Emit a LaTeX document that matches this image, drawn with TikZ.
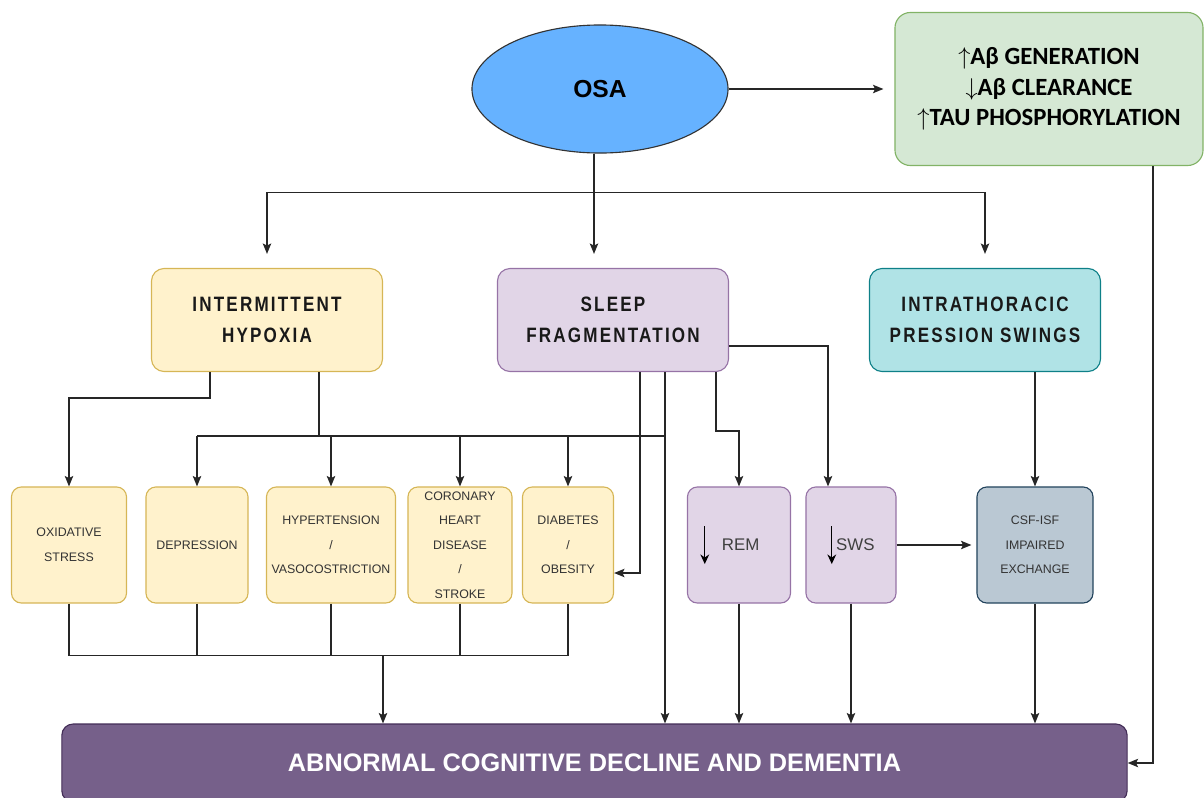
\documentclass[tikz,border=0pt]{standalone}
\usepackage{fontspec}
\setmainfont{Liberation Sans}
\newfontfamily\calibrifont{Carlito}
\newfontfamily\narrowfont[FakeStretch=0.82,LetterSpace=10.5]{Liberation Sans}
\usetikzlibrary{arrows.meta,positioning,calc,shapes.geometric}
\definecolor{OsaBlue}{HTML}{66B2FF}
\definecolor{AmyFill}{HTML}{D5E8D4}
\definecolor{AmyLine}{HTML}{82B366}
\definecolor{HypFill}{HTML}{FFF2CC}
\definecolor{HypLine}{HTML}{D6B656}
\definecolor{SleepFill}{HTML}{E1D5E7}
\definecolor{SleepLine}{HTML}{9673A6}
\definecolor{PresFill}{HTML}{B0E3E6}
\definecolor{PresLine}{HTML}{0E8088}
\definecolor{CsfFill}{HTML}{BAC8D3}
\definecolor{CsfLine}{HTML}{23445D}
\definecolor{DemFill}{HTML}{76608A}
\definecolor{DemLine}{HTML}{432D57}
\newcommand{\tallarrow}{\tikz[baseline=-0.1cm]\draw[black, line width=0.9pt,
  -{Stealth[length=2.4mm,width=2.2mm]}] (0,0.5cm) -- (0,-0.45cm);}

\begin{document}
\begin{tikzpicture}[
        x=0.025cm, y=-0.025cm,
        bigbox/.style={draw, line width=0.8pt, rounded corners=9pt, align=center,
          minimum width=5.775cm, minimum height=2.575cm,
          font=\narrowfont\fontsize{14.8}{22}\selectfont\bfseries, text=black!90},
        smallbox/.style={draw=HypLine, fill=HypFill, line width=0.8pt, rounded corners=7pt,
          align=center, minimum height=2.9cm, inner sep=1pt,
          font=\fontsize{8.8}{17.5}\selectfont, text=black!80},
        sleepbox/.style={draw=SleepLine, fill=SleepFill, line width=0.8pt, rounded corners=7pt,
          align=center, minimum height=2.9cm, inner sep=1pt,
          font=\fontsize{12}{14}\selectfont, text=black!75},
        arr/.style={-{Stealth[length=2.6mm,width=2.1mm,inset=0.5mm]}, line width=1pt, draw=black!85},
        line/.style={line width=1pt, draw=black!85}
      ]
        \useasboundingbox (0,0) rectangle (1204,797);

        % top row
        \node[ellipse, draw=black!80, fill=OsaBlue, line width=0.8pt, inner sep=0pt,
          minimum width=6.4cm, minimum height=3.2cm,
          font=\fontsize{17.5}{20}\selectfont\bfseries] (osa) at (600,89) {OSA};
        \node[draw=AmyLine, fill=AmyFill, line width=0.8pt, rounded corners=11pt, align=center,
          minimum width=7.7cm, minimum height=3.825cm,
          font=\calibrifont\fontsize{17.6}{21.5}\selectfont\bfseries] (amy) at (1049,89)
          {$\uparrow$Aβ GENERATION\\$\downarrow$Aβ CLEARANCE\\$\uparrow$TAU PHOSPHORYLATION};

        % mechanisms
        \node[bigbox, draw=HypLine, fill=HypFill] (ih) at (267,320) {INTERMITTENT\\HYPOXIA};
        \node[bigbox, draw=SleepLine, fill=SleepFill] (sf) at (613,320) {SLEEP\\FRAGMENTATION};
        \node[bigbox, draw=PresLine, fill=PresFill] (ips) at (985,320) {INTRATHORACIC\\PRESSION SWINGS};

        % consequences
        \node[smallbox, minimum width=2.875cm] (ox) at (69,545) {OXIDATIVE\\STRESS};
        \node[smallbox, minimum width=2.55cm] (dep) at (197,545) {DEPRESSION};
        \node[smallbox, minimum width=3.225cm] (hyp) at (331,545) {HYPERTENSION\\/\\VASOCOSTRICTION};
        \node[smallbox, minimum width=2.6cm] (chd) at (460,545) {CORONARY\\HEART\\DISEASE\\/\\STROKE};
        \node[smallbox, minimum width=2.275cm] (dia) at (568,545) {DIABETES\\/\\OBESITY};
        \node[sleepbox, minimum width=2.575cm] (rem) at (739,545) {\tallarrow\hspace{9pt}REM\hspace{13pt}};
        \node[sleepbox, minimum width=2.25cm] (sws) at (851,545) {\tallarrow\hspace{0pt}SWS};
        \node[draw=CsfLine, fill=CsfFill, line width=0.8pt, rounded corners=7pt, align=center,
          minimum width=2.9cm, minimum height=2.9cm,
          font=\fontsize{8.8}{17.5}\selectfont, text=black!80] (csf) at (1035,545)
          {CSF-ISF\\IMPAIRED\\EXCHANGE};

        \node[draw=DemLine, fill=DemFill, line width=0.8pt, rounded corners=8pt,
          minimum width=26.625cm, minimum height=1.95cm, text=white,
          font=\fontsize{18}{20}\selectfont\bfseries] (ad) at (594.5,763)
          {ABNORMAL COGNITIVE DECLINE AND DEMENTIA};

        % OSA outputs
        \draw[arr, shorten >=0.275cm] (osa.east) -- (amy.west);
        \draw[line] ([xshift=-0.15cm]osa.south) -- ++(0,39) coordinate (split);
        \draw[arr, shorten >=0.35cm] (split) -- (split |- sf.north);
        \draw[arr, shorten >=0.35cm] (split) -| (ih.north);
        \draw[arr, shorten >=0.35cm] (split) -| (ips.north);

        % hypoxia branches
        \draw[arr] ([xshift=-1.425cm]ih.south) -- ++(0,26) -| (ox.north);
        \draw[line] ([xshift=1.3cm]ih.south) -- ++(0,64) coordinate (hub);
        \draw[line] (dep.north |- hub) -- ([xshift=1.3cm]sf.south |- hub);
        \foreach \n in {dep,hyp,chd,dia}
          \draw[arr] (\n.north |- hub) -- (\n.north);

        % sleep fragmentation branches
        \draw[arr] ([xshift=1.3cm]sf.south) coordinate (sfc) -- (sfc |- ad.north);
        \draw[arr] ([xshift=0.675cm]sf.south) |- ([yshift=-0.7cm]dia.east);
        \draw[arr] ([xshift=2.575cm]sf.south) -- ++(0,59) -| (rem.north);
        \draw[arr] ([yshift=-0.65cm]sf.east) -| ([xshift=-0.575cm]sws.north);

        % pressure swings
        \draw[arr] (csf.north |- ips.south) -- (csf.north);
        \draw[arr, shorten >=0.125cm] (sws.east) -- (csf.west);

        % into dementia
        \draw[line] (ox.south) -- ++(0,52) coordinate (low) -- (low -| dia.south) -- (dia.south);
        \foreach \n in {dep,hyp,chd}
          \draw[line] (\n.south) -- (\n.south |- low);
        \coordinate (lowmid) at (383,655);
        \draw[arr] (lowmid) -- (lowmid |- ad.north);
        \foreach \n in {rem,sws,csf}
          \draw[arr] (\n.south) -- (\n.south |- ad.north);
        \draw[arr] ([xshift=2.6cm]amy.south) |- (ad.east);
      \end{tikzpicture}
\end{document}
